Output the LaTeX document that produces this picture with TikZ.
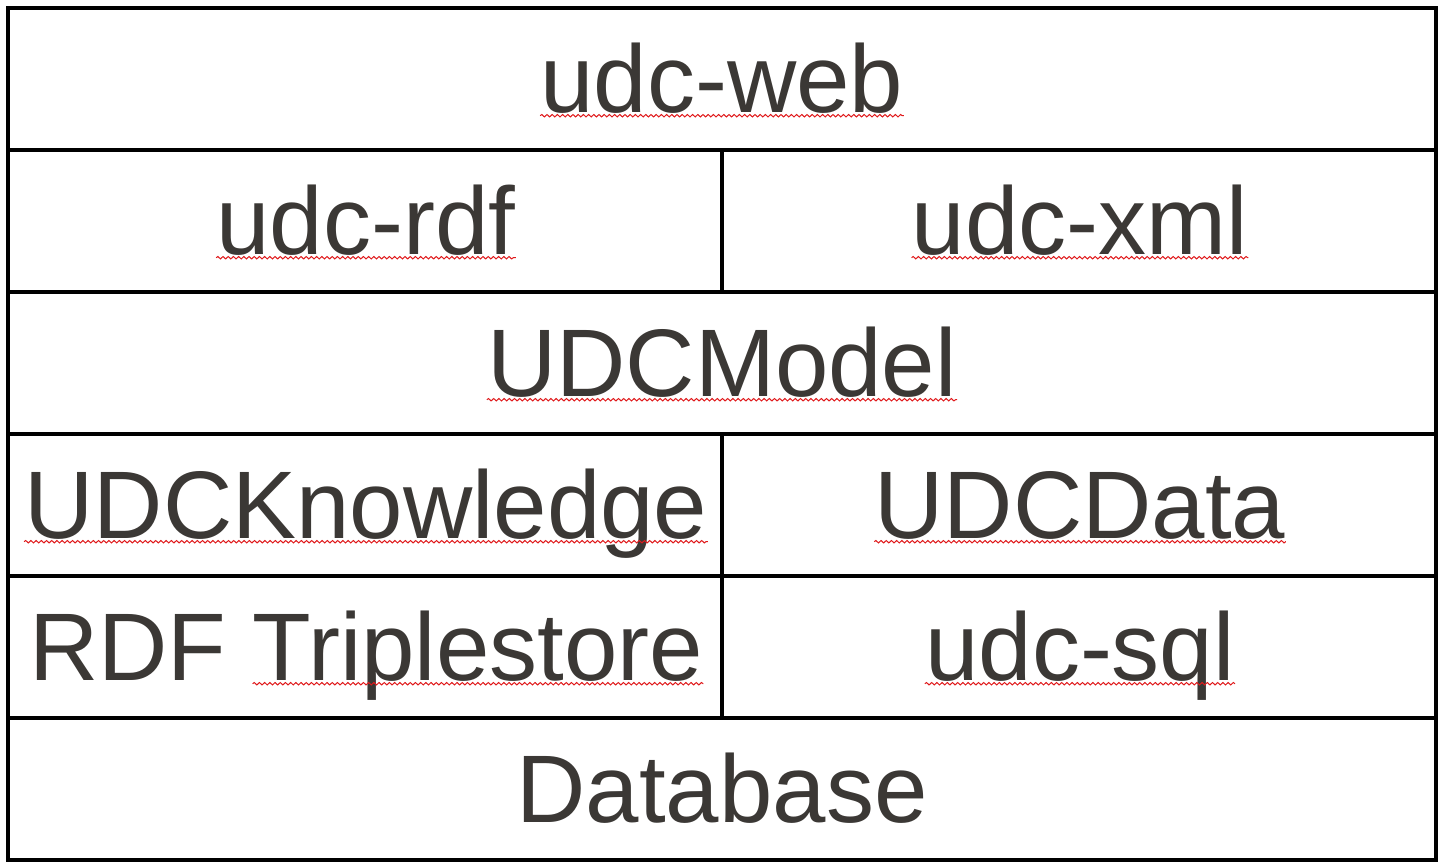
\documentclass[tikz,border=0pt]{standalone}
\usepackage{fontspec}
\setmainfont{Liberation Sans}
\usetikzlibrary{decorations.pathmorphing}
\definecolor{ink}{HTML}{3B3835}
\definecolor{spell}{HTML}{E0191B}
\newlength\rdfwidth
\newcommand\cellfont{\fontsize{48}{58}\selectfont}
\begin{document}
\settowidth{\rdfwidth}{\cellfont RDF\ }%
\begin{tikzpicture}[x=0.5pt,y=-0.5pt,
  cell/.style={anchor=base,inner sep=0pt,font=\cellfont,text=ink},
  rule/.style={line width=2pt,draw=black},
  squiggle/.style={draw=spell,line width=0.5pt,decorate,
    decoration={snake,segment length=2.6pt,amplitude=0.6pt}}]
\useasboundingbox (0,0) rectangle (1440,864);
\fill[white] (0,0) rectangle (1440,864);

% table frame and row rules
\draw[rule] (7.5,7.5) rectangle (1435.5,859.5);
\foreach \y in {149.5,291.5,433.5,575.5,717.5}
  \draw[rule] (7.5,\y) -- (1435.5,\y);
% column dividers
\draw[rule] (721.5,149.5) -- (721.5,291.5);
\draw[rule] (721.5,433.5) -- (721.5,717.5);

% layer labels
\node[cell] (web)  at (722,112.5) {udc-web};
\node[cell] (rdfl) at (366,254.5) {udc-rdf};
\node[cell] (xml)  at (1080,254.5) {udc-xml};
\node[cell] (model) at (722,396.5) {UDCModel};
\node[cell] (know) at (366,538.5) {UDCKnowledge};
\node[cell] (data) at (1080,538.5) {UDCData};
\node[cell] (rdf)  at (366,680.5) {RDF Triplestore};
\node[cell] (sql)  at (1080,680.5) {udc-sql};
\node[cell] (db)   at (722,822.5) {Database};

% spell-check underlines
\foreach \n in {web,rdfl,xml,model,know,data,sql}
  \draw[squiggle] ([yshift=-1.6pt]\n.base west) -- ([yshift=-1.6pt]\n.base east);
\draw[squiggle] ([xshift=\rdfwidth,yshift=-1.6pt]rdf.base west) -- ([yshift=-1.6pt]rdf.base east);
\end{tikzpicture}
\end{document}
